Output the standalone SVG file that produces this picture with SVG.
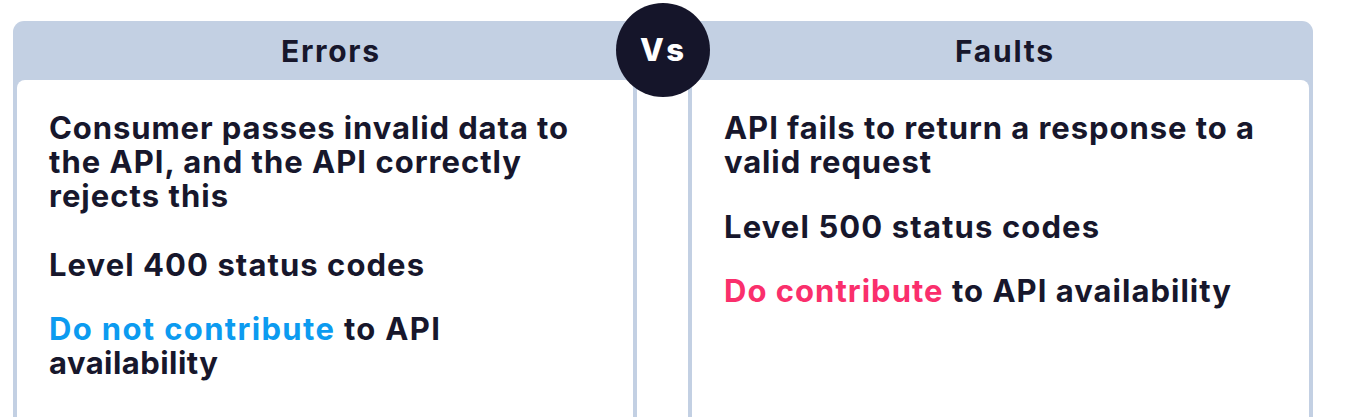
<svg xmlns="http://www.w3.org/2000/svg" width="1350" height="417" viewBox="0 0 1350 417">
<style>
.hdr{fill:#c3d0e3}
.body{fill:#ffffff}
.title{font-family:"Inter","Liberation Sans",sans-serif;font-weight:700;font-size:30px;fill:#17172c}
.txt{font-family:"Inter","Liberation Sans",sans-serif;font-weight:700;font-size:31px;fill:#17172c}
.blue{fill:#0c9bf0}
.pink{fill:#fa2f6c}
</style>
<rect width="1350" height="417" fill="#ffffff"/>
<g id="errors">
<rect class="hdr" x="13" y="21" width="624" height="430" rx="11"/>
<rect class="body" x="17" y="80" width="616" height="400" rx="8"/>
<text class="title" x="281" y="62" textLength="98" lengthAdjust="spacing">Errors</text>
<text class="txt" x="49" y="139" textLength="519" lengthAdjust="spacing">Consumer passes invalid data to</text>
<text class="txt" x="49" y="173" textLength="472" lengthAdjust="spacing">the API, and the API correctly</text>
<text class="txt" x="49" y="207" textLength="179" lengthAdjust="spacing">rejects this</text>
<text class="txt" x="49" y="276" textLength="375" lengthAdjust="spacing">Level 400 status codes</text>
<text class="txt" x="49" y="340" textLength="391" lengthAdjust="spacing"><tspan class="blue">Do not contribute</tspan> to API</text>
<text class="txt" x="49" y="374" textLength="169" lengthAdjust="spacing">availability</text>
</g>
<g id="faults">
<rect class="hdr" x="688" y="21" width="625" height="430" rx="11"/>
<rect class="body" x="692" y="80" width="617" height="400" rx="8"/>
<text class="title" x="955" y="62" textLength="98" lengthAdjust="spacing">Faults</text>
<text class="txt" x="724" y="139" textLength="530" lengthAdjust="spacing">API fails to return a response to a</text>
<text class="txt" x="724" y="173" textLength="207" lengthAdjust="spacing">valid request</text>
<text class="txt" x="724" y="238" textLength="375" lengthAdjust="spacing">Level 500 status codes</text>
<text class="txt" x="724" y="302" textLength="507" lengthAdjust="spacing"><tspan class="pink">Do contribute</tspan> to API availability</text>
</g>
<g id="vs">
<circle cx="663" cy="50" r="47" fill="#15152a"/>
<text x="640" y="61" font-family="Inter, 'Liberation Sans', sans-serif" font-weight="800" font-size="31" fill="#ffffff" textLength="44" lengthAdjust="spacing">Vs</text>
</g>
<g id="connectors"/>
</svg>
